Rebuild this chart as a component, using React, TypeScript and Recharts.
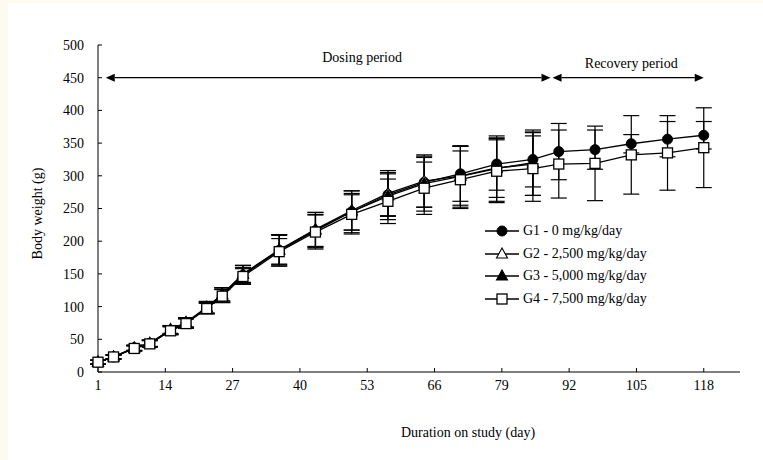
import React from 'react';
import { LineChart, Line, XAxis, YAxis, ErrorBar, Legend, ReferenceLine, ReferenceDot, Label } from 'recharts';

// study days where body weight was measured
const days = [1, 4, 8, 11, 15, 18, 22, 25, 29, 36, 43, 50, 57, 64, 71, 78, 85, 90, 97, 104, 111, 118];

// group means (g) and SDs; G2/G3 have no recovery animals
const g1Mean = [15, 23, 37, 44, 64, 75, 98, 117, 148, 186, 216, 245, 271, 290, 303, 318, 325, 337, 340, 349, 356, 362];
const g1Sd = [3, 3, 4, 5, 6, 7, 8, 10, 12, 24, 25, 28, 32, 38, 42, 40, 42, 43, 30, 14, 27, 21];
const g2Mean = [15, 23, 37, 44, 65, 76, 99, 119, 150, 187, 218, 247, 273, 292, 300, 312, 318];
const g2Sd = [3, 3, 4, 5, 6, 7, 9, 10, 13, 22, 26, 30, 35, 40, 45, 45, 48];
const g3Mean = [15, 23, 36, 43, 64, 75, 98, 118, 149, 186, 217, 245, 269, 288, 299, 311, 320];
const g3Sd = [3, 3, 4, 5, 7, 8, 9, 11, 14, 24, 27, 32, 36, 42, 47, 50, 50];
const g4Mean = [15, 23, 36, 43, 63, 74, 97, 116, 146, 184, 214, 241, 261, 281, 294, 307, 311, 318, 319, 332, 335, 343];
const g4Sd = [3, 3, 4, 5, 6, 7, 8, 10, 12, 20, 26, 30, 34, 40, 44, 48, 50, 52, 57, 60, 57, 61];

const seriesNames = ['G1 - 0 mg/kg/day', 'G2 - 2,500 mg/kg/day', 'G3 - 5,000 mg/kg/day', 'G4 - 7,500 mg/kg/day'];
const xTicks = [1, 14, 27, 40, 53, 66, 79, 92, 105, 118];
const yTicks = [0, 50, 100, 150, 200, 250, 300, 350, 400, 450, 500];

const chartData = days.map((day, i) => ({
  day,
  g1: g1Mean[i], g1Sd: g1Sd[i],
  g2: g2Mean[i], g2Sd: g2Sd[i],
  g3: g3Mean[i], g3Sd: g3Sd[i],
  g4: g4Mean[i], g4Sd: g4Sd[i],
}));

const FONT = '"Liberation Serif", "Times New Roman", serif';

type MarkerKind = 'circle' | 'triangleOpen' | 'triangle' | 'squareOpen';
const markerKinds: MarkerKind[] = ['circle', 'triangleOpen', 'triangle', 'squareOpen'];

const drawMarker = (kind: MarkerKind, cx: number, cy: number, key?: string | number) => {
  if (kind === 'circle') {
    return <circle key={key} cx={cx} cy={cy} r={5} fill="#000" stroke="#000" strokeWidth={1} />;
  }
  if (kind === 'squareOpen') {
    return <rect key={key} x={cx - 5} y={cy - 5} width={10} height={10} fill="#fff" stroke="#000" strokeWidth={1.3} />;
  }
  const pts = `${cx},${cy - 6} ${cx - 5.5},${cy + 4} ${cx + 5.5},${cy + 4}`;
  return (
    <polygon key={key} points={pts} fill={kind === 'triangle' ? '#000' : '#fff'} stroke="#000" strokeWidth={1.1} />
  );
};

const makeDot = (kind: MarkerKind) => (props: any) => {
  const { cx, cy, index } = props;
  if (cx == null || cy == null || Number.isNaN(cy)) return <g key={index} />;
  return drawMarker(kind, cx, cy, index);
};

const DoubleArrow = (props: any) => {
  const { x1, y1, x2, y2 } = props;
  const h = 9;
  const w = 4;
  return (
    <g>
      <line x1={x1 + h} y1={y1} x2={x2 - h} y2={y2} stroke="#000" strokeWidth={1.2} />
      <polygon points={`${x1},${y1} ${x1 + h},${y1 - w} ${x1 + h},${y1 + w}`} fill="#000" />
      <polygon points={`${x2},${y2} ${x2 - h},${y2 - w} ${x2 - h},${y2 + w}`} fill="#000" />
    </g>
  );
};

const LegendContent = () => (
  <div style={{ fontFamily: FONT, fontSize: 14, color: '#000' }}>
    {seriesNames.map((name, i) => (
      <div key={name} style={{ display: 'flex', alignItems: 'center', height: 22.5, whiteSpace: 'nowrap' }}>
        <svg width={34} height={14} style={{ display: 'block' }}>
          <line x1={0} y1={7} x2={34} y2={7} stroke="#000" strokeWidth={1.3} />
          {drawMarker(markerKinds[i], 17, 7)}
        </svg>
        <span style={{ marginLeft: 4 }}>{name}</span>
      </div>
    ))}
  </div>
);

const tickStyle = { fill: '#000', fontSize: 14, fontFamily: FONT };

export default function App() {
  const keys = ['g1', 'g2', 'g3', 'g4'];
  return (
    <div style={{ position: 'fixed', left: 0, top: 0, width: 763, height: 460, background: '#fdfbef' }}>
      <div style={{ position: 'absolute', left: 8, top: 3, right: 0, bottom: 0, background: '#fff' }} />
      <div style={{ position: 'absolute', left: 0, top: 0 }}>
        <LineChart width={763} height={460} data={chartData} margin={{ top: 45, right: 23, bottom: 58, left: 0 }}>
          <XAxis
            type="number"
            dataKey="day"
            domain={[1, 125]}
            ticks={xTicks}
            interval={0}
            height={30}
            tickSize={-4}
            tickMargin={12}
            tick={tickStyle}
            axisLine={{ stroke: '#000', strokeWidth: 1 }}
            tickLine={{ stroke: '#000' }}
          >
            <Label
              content={(p: any) => {
                const vb = p.viewBox || { x: 98, y: 372, width: 642 };
                return (
                  <text x={vb.x + vb.width / 2 + 49} y={vb.y + 60} dy="0.35em" textAnchor="middle" fontFamily={FONT} fontSize={14} fill="#000">
                    Duration on study (day)
                  </text>
                );
              }}
            />
          </XAxis>
          <YAxis
            type="number"
            domain={[0, 500]}
            ticks={yTicks}
            interval={0}
            width={98}
            tickSize={-4}
            tickMargin={18}
            tick={tickStyle}
            axisLine={{ stroke: '#000', strokeWidth: 1 }}
            tickLine={{ stroke: '#000' }}
          >
            <Label
              content={(p: any) => {
                const vb = p.viewBox || { x: 0, y: 45, height: 327 };
                const cx = vb.x + 37;
                const cy = vb.y + vb.height / 2 + 5;
                return (
                  <text x={cx} y={cy} dy="0.35em" transform={`rotate(-90, ${cx}, ${cy})`} textAnchor="middle" fontFamily={FONT} fontSize={14} fill="#000">
                    Body weight (g)
                  </text>
                );
              }}
            />
          </YAxis>
          <ReferenceLine segment={[{ x: 2.5, y: 450 }, { x: 88.4, y: 450 }]} shape={DoubleArrow} />
          <ReferenceLine segment={[{ x: 88.8, y: 450 }, { x: 118, y: 450 }]} shape={DoubleArrow} />
          <ReferenceDot
            x={52}
            y={482}
            r={0}
            fill="none"
            stroke="none"
            label={{ value: 'Dosing period', position: 'center', fill: '#000', fontSize: 14, fontFamily: FONT }}
          />
          <ReferenceDot
            x={104}
            y={473}
            r={0}
            fill="none"
            stroke="none"
            label={{ value: 'Recovery period', position: 'center', fill: '#000', fontSize: 14, fontFamily: FONT }}
          />
          {keys.map((k, i) => (
            <Line
              key={k}
              dataKey={k}
              name={seriesNames[i]}
              stroke="#000"
              strokeWidth={1.3}
              dot={makeDot(markerKinds[i])}
              activeDot={false}
              isAnimationActive={false}
            >
              <ErrorBar dataKey={`${k}Sd`} width={8} stroke="#000" strokeWidth={1.2} direction="y" />
            </Line>
          ))}
          <Legend
            content={<LegendContent />}
            layout="vertical"
            verticalAlign="middle"
            align="center"
            wrapperStyle={{ left: 485, top: 220, width: 220 }}
          />
        </LineChart>
      </div>
    </div>
  );
}
